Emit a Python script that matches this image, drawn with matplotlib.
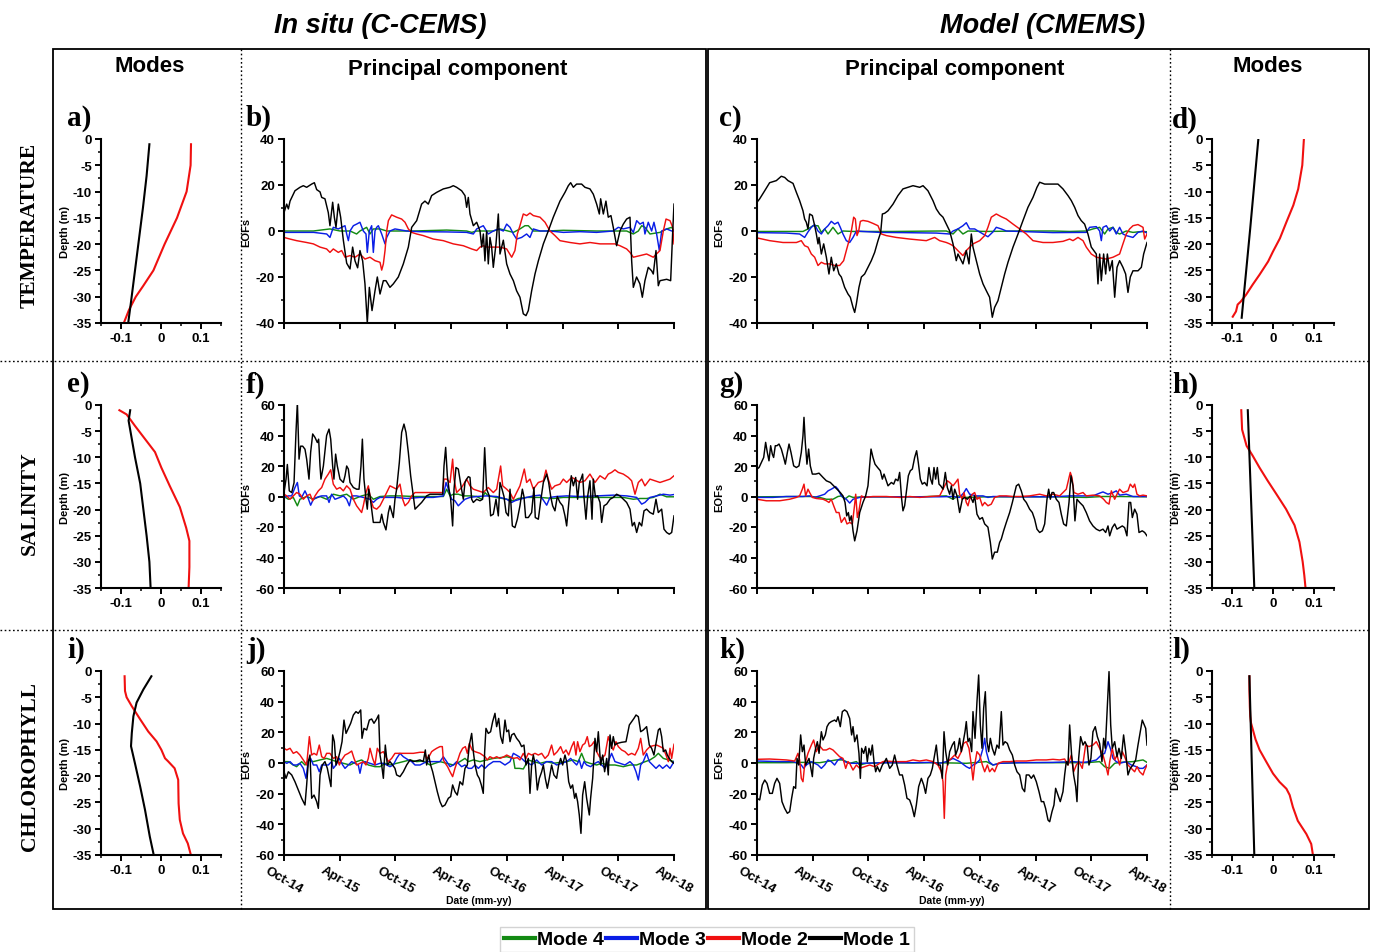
import matplotlib
matplotlib.use("Agg")
import matplotlib.pyplot as plt
from matplotlib.lines import Line2D
from matplotlib.patches import Rectangle
from matplotlib.ticker import MultipleLocator

W, H = 1373, 953

# ---- time axis: months since Oct-14 ----
date_ticks = [0, 6, 12, 18, 24, 30, 36, 42]
date_labels = ["Oct-14", "Apr-15", "Oct-15", "Apr-16", "Oct-16", "Apr-17", "Oct-17", "Apr-18"]

# ---- principal components, (month, EOF value) ----
# b) temperature, in situ
b_mode1 = [(0, 8), (0.29, 11.7), (0.47, 9.6), (0.65, 13), (1.18, 17.5), (1.72, 19), (2.08, 19.7), (2.44, 19), (2.98, 20.4), (3.27, 21), (3.52, 18), (3.88, 17), (4.06, 14.6), (4.41, 14), (4.77, 8), (4.95, 2.3), (5.24, 12.5), (5.42, 6), (5.6, 1.6), (5.85, 11.7), (6.1, 6), (6.39, -4), (6.75, -14), (7.11, -16.5), (7.39, -7), (7.65, -13), (7.93, -16), (8.18, -8.5), (8.47, -13), (8.72, -23), (8.97, -40), (9.19, -24.5), (9.48, -34.6), (9.8, -26), (10.05, -20), (10.34, -27.4), (10.7, -21.6), (10.98, -21.6), (11.41, -24.5), (11.77, -23), (12.31, -20), (12.85, -14.3), (13.39, -7), (13.75, 1.6), (14.29, 4.5), (14.82, 11.7), (15.18, 13), (15.54, 11.7), (15.9, 15.4), (16.44, 16.8), (17.16, 18.3), (17.87, 19), (18.23, 19.7), (18.59, 19), (19.13, 17.5), (19.49, 15.4), (19.67, 10.3), (19.85, 14.6), (20.03, 7.4), (20.39, 2.3), (20.75, 3.8), (21.11, 0), (21.29, -7), (21.47, -1.3), (21.64, -13), (21.82, 0), (22.0, -14.3), (22.18, -2.8), (22.36, -7), (22.54, -15.8), (22.83, -5.6), (23.08, 7.4), (23.26, -10), (23.62, -4), (23.98, -14.3), (24.34, -18.7), (24.7, -21.6), (25.05, -26), (25.41, -28.8), (25.77, -36), (26.06, -36.8), (26.31, -34.6), (26.67, -26), (27.03, -18.7), (27.39, -13), (27.93, -5.6), (28.46, 0), (29.0, 6), (29.72, 13), (30.26, 16.8), (30.62, 19.7), (30.87, 21), (31.16, 19), (31.51, 20.4), (32.05, 20.4), (32.41, 19), (32.95, 18.3), (33.31, 16), (33.67, 11.7), (33.96, 7.4), (34.1, 14), (34.39, 7.4), (34.67, 13), (34.92, 6), (35.21, 6.7), (35.46, 1.6), (35.82, -6.4), (36.18, 0), (36.54, 3), (36.9, 5.2), (37.26, 6), (37.44, -13), (37.62, -24.5), (37.97, -20), (38.33, -23), (38.59, -28.8), (38.87, -21.6), (39.23, -15.8), (39.59, -17.3), (39.77, -18.7), (40.06, -8.5), (40.31, -23.8), (40.49, -21.6), (41.21, -21), (41.64, -21.6), (41.85, -1.3), (42.0, 11.7)]
b_mode2 = [(0, -2.8), (0.65, -3.5), (1.36, -4.2), (2.44, -5), (3.16, -5.6), (3.88, -7), (4.59, -7.8), (4.95, -9.3), (5.31, -7.8), (5.85, -9.3), (6.21, -8.5), (6.57, -11.4), (7.11, -10.7), (7.65, -11.4), (8.18, -10), (8.72, -12.2), (9.26, -11.4), (9.8, -12.9), (10.34, -13.6), (10.52, -17), (10.7, -14.3), (10.88, -8.5), (11.06, 0), (11.24, 4.5), (11.59, 7), (12.13, 6), (12.67, 5.2), (13.03, 3.8), (13.39, 0.9), (13.75, -0.6), (14.29, -1.3), (15.0, -2), (16.08, -3.5), (17.16, -4.2), (18.23, -5.6), (19.31, -6.4), (20.21, -7.8), (20.75, -8.5), (21.11, -7), (21.46, -6.4), (21.82, -7), (22.54, -7), (23.26, -7), (23.98, -7.8), (24.52, -11.4), (24.87, -8.5), (25.13, -1.3), (25.41, 2.3), (25.77, 7.4), (26.13, 6.7), (26.49, 7.8), (26.85, 6.7), (27.57, 6), (28.11, 3.8), (28.64, 0), (29.18, -2), (29.72, -4.2), (30.8, -5), (31.87, -5.6), (32.95, -5), (34.03, -5.6), (35.11, -5.6), (35.64, -5.6), (36.18, -6.4), (36.9, -7.8), (37.26, -9.3), (37.62, -11.4), (38.34, -10.7), (39.05, -10), (39.77, -11.4), (40.49, -8.5), (40.85, 0), (41.14, 5.2), (41.57, 4.5), (41.86, 1.6), (42, -5.6)]
b_mode3 = [(0, -0.6), (1.4, -0.6), (3.2, -0.6), (4.6, -1.3), (4.95, -2.8), (5.31, 1.6), (5.85, 0.9), (6.21, 1.6), (6.57, 2.3), (6.75, -1.3), (6.93, -4.2), (7.11, 0), (7.47, 2.3), (7.82, 3), (8.18, 3.8), (8.54, 0), (8.83, -1.3), (8.97, -9.3), (9.19, 0), (9.44, 2.3), (9.62, -9.3), (9.8, 0), (9.98, 1.6), (10.16, 2.3), (10.52, -1.3), (10.88, -5.6), (11.06, -2.8), (11.41, 0), (11.95, 0.9), (13.21, 0), (14.65, -0.3), (17.52, -0.4), (19.67, -0.6), (20.39, -1.3), (20.75, 0.9), (21.46, 2.3), (22.0, -1.3), (22.54, 0), (23.08, 0.9), (23.62, 0), (23.98, 3), (24.34, 1.6), (24.7, -1.3), (25.05, -3.5), (25.59, -2.8), (26.13, -1.3), (26.49, -2.8), (26.85, 0.9), (27.57, 0), (28.64, 0), (30.08, -0.6), (31.87, -0.3), (33.67, -0.6), (35.46, 0), (36.0, 1.6), (36.54, 0.9), (37.26, 1.6), (37.62, -0.6), (37.98, 4.5), (38.34, 3), (38.69, 3.8), (38.87, -1.3), (39.23, 3.8), (39.59, 0), (39.84, 3.8), (40.13, -1.3), (40.42, -8.5), (40.67, 0), (41.21, 0.9), (41.75, 0), (42, 0)]
b_mode4 = [(0, 0), (3.16, 0), (4.95, 0.9), (6.03, 0), (7.11, 0), (7.82, -1.3), (8.18, 0), (8.9, 1.6), (9.26, -1.3), (9.62, 0.9), (10.34, 0.9), (11.06, 0), (13.93, 0), (17.52, 0.4), (19.67, 0), (20.21, -0.6), (20.75, 0), (21.82, 0), (22.54, 0), (23.26, 0.9), (24.7, -0.6), (25.41, 0.9), (25.95, 2.3), (26.31, 2.3), (26.85, 0), (28.29, 0), (30.08, 0.3), (33.67, 0), (35.46, 0), (36.9, 0), (37.62, -1.3), (38.16, 0), (38.52, 2.3), (38.87, 1.6), (39.41, -1.3), (40.49, -0.6), (41.21, 0.9), (41.75, 1.6), (42, 0)]

# c) temperature, model
c_mode1 = [(0, 12.5), (0.29, 14), (0.83, 17.5), (1.36, 21), (2.08, 21.9), (2.62, 23.8), (2.98, 23.3), (3.34, 21.9), (3.88, 20.7), (4.24, 16.8), (4.59, 13.2), (4.95, 8.8), (5.13, 5.2), (5.31, 3.8), (5.49, 0.9), (5.67, 7.4), (5.96, 6.7), (6.21, 2.3), (6.39, -1.3), (6.57, -5.6), (6.68, -2.8), (6.93, -10), (7.18, -5.6), (7.47, -11.4), (7.75, -18.7), (8.0, -11.4), (8.26, -17.3), (8.54, -14.3), (8.83, -18.7), (9.08, -20), (9.44, -24.5), (9.8, -27.4), (10.05, -28.8), (10.34, -33.2), (10.52, -35.4), (10.7, -31.7), (10.98, -24.5), (11.24, -20), (11.59, -18.7), (11.95, -15.8), (12.31, -12.9), (12.67, -9.3), (13.03, -4.2), (13.32, -0.6), (13.5, 7.4), (13.75, 7.7), (14.11, 8.8), (14.65, 11.7), (15.18, 15.4), (15.72, 18.3), (16.26, 19), (16.8, 19.7), (17.52, 19), (17.88, 19.7), (18.41, 17.5), (18.95, 13.2), (19.31, 9.6), (19.67, 7.4), (20.03, 6), (20.39, 3), (20.75, 0), (21.11, -5.6), (21.46, -12.9), (21.64, -10), (21.82, -11.4), (22.18, -14.3), (22.54, -8.5), (22.83, -14.3), (23.08, -1.3), (23.26, -7), (23.62, -12.9), (23.98, -18.7), (24.34, -23), (24.7, -26), (25.05, -28.8), (25.34, -37.5), (25.59, -33.2), (25.95, -30.3), (26.31, -24.5), (26.67, -18.7), (27.03, -13.6), (27.57, -7), (28.11, -1.3), (28.64, 4.5), (29.18, 10.3), (29.72, 14.6), (30.15, 19), (30.44, 21.2), (30.98, 20.4), (31.69, 20.4), (32.41, 20.4), (32.95, 18.3), (33.49, 15.4), (33.85, 13.2), (34.21, 10.3), (34.57, 6.7), (34.92, 4.5), (35.28, 3), (35.64, -1.3), (36.0, -7), (36.54, -10), (36.72, -23), (36.9, -10), (37.08, -21.6), (37.33, -10), (37.55, -18.7), (37.73, -10), (37.98, -17.3), (38.26, -12.9), (38.52, -28.8), (38.77, -15.8), (39.05, -12.9), (39.41, -15.8), (39.7, -18.7), (39.95, -26.7), (40.2, -20), (40.49, -17.3), (41.03, -17.3), (41.39, -15.8), (41.64, -10), (42, -5)]
c_mode2 = [(0, -3), (1.36, -4.2), (2.8, -5), (4.24, -5), (4.77, -4.2), (5.13, -6.4), (5.49, -7), (5.85, -10), (6.21, -11.4), (6.57, -15), (6.93, -13.6), (7.29, -14.3), (7.82, -14.3), (8.36, -15), (8.9, -15), (9.33, -12.9), (9.62, -8.5), (9.91, -4.2), (10.16, 0), (10.41, 6), (10.59, 5.2), (10.77, -2), (10.95, 0), (11.13, 4.2), (11.41, 4.6), (11.95, 4.2), (12.49, 3.3), (13.03, 2.3), (13.39, -1.3), (13.93, -2), (15.0, -2.8), (16.44, -3.5), (18.23, -4.2), (19.13, -2.8), (19.67, -4.2), (20.39, -5), (20.75, -5.6), (21.11, -6.4), (21.46, -7.8), (21.82, -9.3), (22.18, -10.7), (22.54, -8.5), (23.26, -5.6), (23.98, -4.2), (24.52, -2), (24.87, 1.6), (25.23, 6), (25.77, 7.4), (26.31, 6.2), (26.85, 5.2), (27.57, 3), (28.29, 0.9), (29.0, -1.3), (29.72, -4.2), (30.8, -5), (31.87, -5), (32.95, -4.5), (33.67, -3.5), (34.03, -4.2), (34.57, -2.8), (35.11, -4.2), (35.46, -7), (36.0, -10), (36.54, -11.4), (37.62, -12.2), (38.34, -11.4), (39.05, -10), (39.41, -5.6), (39.77, -1.3), (40.13, 0.9), (40.49, 2.3), (41.03, 2.8), (41.57, 1.6), (41.75, -3.5), (42, -1.3)]
c_mode3 = [(0, -0.7), (3.16, -0.9), (4.59, -1.3), (5.13, -2.8), (5.49, -0.4), (5.85, 1.6), (6.21, 2.8), (6.57, 0), (6.93, -1.3), (7.29, 0.9), (7.65, 2.3), (8.0, 4.2), (8.36, 3), (8.72, 3.8), (8.97, 1.6), (9.26, -1.3), (9.62, -4.2), (9.98, -5), (10.34, -2.8), (10.7, 0), (11.41, -0.2), (13.21, -0.6), (15.72, -0.7), (19.31, -0.9), (20.75, -1.3), (21.11, 0), (21.64, 0.9), (22.18, 2.3), (22.54, 3.6), (22.9, 0.9), (23.44, 0.9), (23.8, 0), (24.34, -1.3), (24.87, -2.5), (25.41, -0.4), (25.77, 1.6), (26.31, 0.9), (26.85, 0), (28.29, -0.2), (31.87, -0.7), (35.46, -0.6), (35.82, 1.6), (36.54, 1.9), (36.9, 0), (37.08, -4.2), (37.26, 1.6), (37.62, 2.3), (37.98, 0), (38.34, 1.6), (38.69, -1.3), (39.05, 1.6), (39.41, -1.3), (39.77, -2), (40.49, -2.8), (41.03, -0.6), (41.57, 0), (42, -0.9)]
c_mode4 = [(0, -0.2), (4.95, -0.2), (5.49, 0.9), (6.03, 2.3), (6.57, 2.3), (6.93, -0.6), (7.29, 0.9), (7.65, -1.3), (8.18, 1.6), (8.72, -1.3), (9.26, 0), (10.34, -0.2), (14.65, -0.2), (19.67, 0), (20.39, 0), (21.11, -1.3), (21.64, 0.9), (22.18, -1.3), (22.72, 0), (24.7, -0.2), (28.29, 0), (31.87, 0), (33.67, -0.2), (35.46, 0), (36.18, 0.9), (36.9, 1.6), (37.44, -1.3), (37.8, 0.9), (38.34, 1.6), (38.69, -0.6), (39.05, -1.3), (39.77, 0), (40.49, -0.6), (41.21, -0.3), (42, -0.3)]

# f) salinity, in situ
f_mode1 = [(0, 2.6), (0.22, 11.4), (0.36, 21), (0.57, 3.7), (0.83, 2.6), (1.08, 9), (1.29, 42), (1.44, 61.7), (1.62, 24.5), (1.79, 33), (2.01, 33), (2.26, 31), (2.44, 24.5), (2.69, 11.4), (2.87, 29), (3.09, 41), (3.34, 38.7), (3.59, 35.4), (3.73, 37.6), (3.88, 20), (3.98, 11.4), (4.24, 20), (4.59, 40), (4.85, 44.2), (5.03, 37.6), (5.24, 20), (5.38, 11.4), (5.56, 27.8), (5.74, 20), (6.03, 11.4), (6.39, 9.2), (6.57, 13.6), (6.75, 20), (6.93, 18), (7.11, 9.2), (7.47, 5.9), (7.82, 4.8), (8.08, 4.8), (8.29, 20), (8.44, 37.6), (8.61, 11.4), (8.83, -1.8), (8.97, -8.3), (9.12, 4.8), (9.26, 0.4), (9.44, -8.3), (9.62, -17), (9.98, -17), (10.34, -17), (10.52, -11.6), (10.7, -17), (10.98, -21.9), (11.24, -10.5), (11.41, -6.1), (11.77, -13.8), (11.95, -1.8), (12.13, 4.8), (12.42, 22.3), (12.67, 42), (12.92, 47.5), (13.14, 42), (13.39, 28.9), (13.64, 13.6), (13.93, 0.4), (14.11, -8.3), (14.47, -6.1), (14.82, -3.9), (15.36, 0.4), (15.72, 1.5), (16.44, 1.5), (17.09, 1.5), (17.23, 20), (17.41, 32.2), (17.59, 13.6), (17.77, 4.8), (17.95, -1.8), (18.16, -19.3), (18.31, 4.8), (18.52, 19), (18.77, 18), (19.06, 7), (19.31, -1.8), (19.49, 9.2), (19.67, 11.4), (19.85, 13), (20.03, 12.5), (20.21, -1.8), (20.39, -3.9), (20.75, -1.8), (21.11, -2.8), (21.39, -1.8), (21.61, 32), (21.82, 4.8), (22.11, 0.4), (22.25, -12.7), (22.54, -11.6), (22.83, -1.8), (23.08, -12.7), (23.26, 9.2), (23.48, 4.8), (23.69, 0), (23.91, -10.5), (24.16, -12.7), (24.34, 4.8), (24.59, -19.3), (24.87, -20.4), (25.13, -14.9), (25.41, -6.1), (25.67, 4.8), (25.84, 0), (26.02, -13.8), (26.31, -13.8), (26.67, -10.5), (26.92, 5.9), (27.06, -13.8), (27.39, -14.9), (27.67, -1.8), (27.93, 9.2), (28.29, 14.7), (28.5, 9.2), (28.72, 0), (28.93, -6.1), (29.18, -9.4), (29.43, 0), (29.72, -3.9), (30.01, -6.1), (30.26, -12.7), (30.44, -19.3), (30.73, 0), (30.94, 13.6), (31.16, 7), (31.41, 12.5), (31.62, -1.8), (31.8, 9.2), (31.98, 11.4), (32.16, 14.7), (32.3, 0), (32.52, -14.9), (32.7, 0), (32.95, 10.3), (33.17, -14.9), (33.31, 11.4), (33.53, 0), (33.78, 0.4), (34.03, -3.9), (34.21, -17), (34.46, -6.1), (34.75, -5), (35.11, -1.8), (35.46, -0.6), (35.82, 1.5), (36.18, 0.4), (36.54, -1.8), (36.9, -3.9), (37.26, -8.3), (37.51, -19.3), (37.73, -17), (37.98, -23.6), (38.26, -17), (38.52, -19.3), (38.77, -9.4), (39.05, -8.3), (39.41, -10.5), (39.77, -11.6), (40.06, -1.8), (40.31, -10.5), (40.67, -8.3), (40.92, -21.4), (41.21, -23.6), (41.49, -24.7), (41.75, -23.6), (42, -12.7)]
f_mode2 = [(0, 1.5), (0.29, 0.4), (0.65, -1.8), (1.0, 0.4), (1.36, 2.6), (1.72, 1.5), (2.08, -1.8), (2.44, 0.4), (2.8, 1.5), (3.09, -2.8), (3.34, 0.4), (3.7, 3.7), (4.06, 5.9), (4.41, 11.4), (4.77, 14.7), (5.03, 17.5), (5.31, 8.1), (5.67, 4.8), (6.03, 5.9), (6.39, 3.7), (6.75, 7), (7.11, 4.8), (7.47, -1.8), (7.82, -6.1), (8.36, -10.5), (8.54, -6.1), (8.83, 2.6), (9.08, 7), (9.33, -1.8), (9.62, -7.2), (9.98, -8.3), (10.34, -6.1), (10.7, -1.8), (11.06, 2.6), (11.41, 7), (11.77, 5.9), (12.13, 4.8), (12.49, 8.1), (12.78, -1.8), (13.03, -6.1), (13.39, -3.9), (13.75, 0.4), (14.11, 2.6), (15.72, 2.6), (17.09, 2.6), (17.23, 11.4), (17.52, 11.4), (17.88, 9.2), (18.16, 24.5), (18.31, 11.4), (18.59, 2.6), (19.13, 5.9), (19.67, 11.4), (20.03, 7), (20.39, 4.8), (20.93, 3.7), (21.46, 2.6), (22.0, 5.9), (22.54, 2.6), (22.9, 4.8), (23.33, 20), (23.55, 7), (23.98, 4.8), (24.34, 2.6), (24.7, -1.8), (25.05, 2.6), (25.41, 7), (25.88, 18), (26.13, 9.2), (26.49, 11.4), (26.85, 4.8), (27.39, 9.2), (27.93, 10.3), (28.21, 17.3), (28.46, 11.4), (28.82, 4.8), (29.18, 7), (29.72, 8.1), (30.08, 11.4), (30.44, 9.2), (30.98, 12.5), (31.34, 11.4), (31.87, 9.2), (32.41, 10.3), (32.95, 14.7), (33.49, 9.2), (34.03, 13.6), (34.57, 11.4), (34.92, 14.7), (35.28, 15.8), (35.64, 17.5), (36.0, 15.8), (36.54, 14.7), (37.08, 12.5), (37.44, 10.3), (37.8, 1.5), (38.16, 9.2), (38.52, 11.4), (38.87, 7), (39.41, 11.4), (39.95, 10.3), (40.49, 9.2), (41.03, 10.3), (41.57, 11.4), (42, 13.6)]
f_mode3 = [(0, -0.6), (0.47, 0.4), (0.83, 0.4), (1.18, 5.9), (1.44, 9.2), (1.65, 0.4), (1.9, -0.6), (2.26, 3.7), (2.51, 0.4), (2.87, -5.7), (3.16, -1.8), (3.52, -0.6), (4.06, 0.4), (4.59, 0.4), (4.85, -3.9), (5.13, 1.5), (5.49, -1.8), (6.03, -0.6), (6.39, 0.4), (6.75, -1.8), (7.04, -6.1), (7.29, 0.4), (7.82, 0.4), (8.54, -0.6), (9.26, -1.8), (9.62, -3.9), (9.98, -1.8), (10.34, -0.6), (11.06, -0.6), (12.13, -0.6), (13.21, -1.3), (14.65, -0.6), (16.08, -0.6), (17.16, 0.4), (17.45, 9.2), (17.7, 4.8), (18.05, -1.8), (18.41, -2.8), (18.77, -6.1), (19.13, -3.9), (19.49, -1.8), (20.03, -0.6), (20.75, 0), (21.82, 0.4), (22.9, 0), (23.98, -1.8), (24.52, -3.9), (24.87, -2.8), (25.41, -1.8), (26.13, -0.6), (26.85, 0.4), (27.57, 0.9), (28.29, -5.7), (28.64, -0.6), (29.36, 0), (30.44, 0.4), (31.87, 0), (33.67, 0.4), (35.46, 0.9), (36.9, 0.4), (37.98, -0.6), (38.52, -5), (38.87, -3.9), (39.41, -0.6), (40.13, 0.4), (40.85, 1.5), (41.57, 0.9), (42, 1.3)]
f_mode4 = [(0, 0), (0.47, -1.8), (1.0, -0.6), (1.44, -6.1), (1.72, -1.8), (2.44, 0), (3.16, -1.8), (3.88, 0), (4.59, -1.8), (5.31, 1.5), (6.03, 0.4), (6.75, 1.5), (7.47, -1.8), (8.36, 0.4), (9.08, 1.5), (9.62, -1.8), (10.34, 0), (11.41, 0.4), (12.49, 0.4), (13.93, 0), (15.72, 0), (17.16, 0), (17.52, 4.8), (17.88, 0.4), (18.23, 1.5), (18.77, 1.5), (19.31, 0.4), (20.03, 0.4), (20.75, 0), (21.29, -1.8), (21.64, 2.6), (22.0, 0.4), (22.9, -0.6), (23.98, -1.8), (24.7, -2.8), (25.23, -1.3), (26.13, -0.6), (27.57, -0.6), (29.0, -1.3), (30.08, -0.6), (31.87, -0.6), (33.67, -0.6), (35.46, -0.6), (36.54, -0.6), (37.62, -1.8), (38.34, -1.3), (39.05, -1.3), (39.77, -0.6), (40.49, 1.5), (41.21, -0.2), (42, -0.2)]

# g) salinity, model
g_mode1 = [(0, 18), (0.22, 19), (0.47, 22.3), (0.72, 25.6), (0.93, 35.5), (1.11, 28.9), (1.29, 23.4), (1.47, 33.3), (1.65, 27.8), (1.79, 25.6), (1.97, 33.3), (2.15, 33.3), (2.37, 34.4), (2.62, 31.1), (2.87, 25.6), (3.05, 21.2), (3.27, 28.9), (3.45, 34.4), (3.66, 28.9), (3.95, 20.1), (4.24, 19), (4.52, 20.1), (4.77, 28.9), (4.95, 39.8), (5.06, 51.9), (5.2, 35.5), (5.38, 21.2), (5.56, 31.1), (5.74, 20.1), (5.96, 14.7), (6.32, 14.7), (6.68, 15.3), (7.11, 12.5), (7.47, 10.3), (7.9, 9.2), (8.26, 7), (8.61, 4.8), (8.97, 2.6), (9.26, 0.4), (9.48, -3.9), (9.66, -12.7), (9.84, -10.5), (9.98, -16), (10.16, -12.7), (10.34, -22.5), (10.52, -29.1), (10.77, -22.5), (11.06, -10.5), (11.41, -3.9), (11.7, 0.4), (11.95, 7), (12.13, 20.1), (12.28, 31.1), (12.49, 25.6), (12.71, 21.2), (12.99, 19), (13.28, 16.9), (13.5, 11.4), (13.68, 14.7), (13.86, 11.4), (14.11, 7), (14.47, 9.2), (14.72, 8.1), (14.93, 11.4), (15.18, 10.3), (15.36, 15.8), (15.58, -1.8), (15.72, -9.4), (15.9, -6.1), (16.08, 2.6), (16.3, 13.6), (16.51, 16.9), (16.73, 18), (16.98, 25.6), (17.19, 30), (17.37, 22.3), (17.59, 11.4), (17.8, 8.1), (18.05, 9.2), (18.31, 7), (18.52, 19), (18.7, 11.4), (18.88, 8.1), (19.06, 19), (19.24, 11.4), (19.42, 19), (19.6, 8.1), (19.78, 7), (20.03, 4.8), (20.28, 15.8), (20.5, 5.9), (20.75, 1.5), (20.93, 7), (21.11, -1.8), (21.29, 4.8), (21.54, 0.4), (21.82, -10.5), (22.11, -1.8), (22.36, -0.6), (22.65, -1.8), (22.97, 0.4), (23.26, -3.9), (23.44, 0.4), (23.69, -11.6), (23.98, -14.9), (24.27, -13.8), (24.52, -18), (24.87, -20.1), (25.13, -30.1), (25.34, -41), (25.59, -36.5), (25.88, -36.5), (26.13, -30.1), (26.31, -27.9), (26.56, -22.5), (26.85, -17), (27.21, -10.5), (27.5, -3.9), (27.75, 2.6), (27.93, 7), (28.18, 8.1), (28.46, 3.7), (28.72, -1.8), (29.0, -3.9), (29.36, -8.3), (29.65, -10.5), (29.9, -14.9), (30.15, -21.4), (30.44, -23.6), (30.73, -22.5), (30.98, -18), (31.23, -1.8), (31.41, 4.8), (31.59, -1.8), (31.77, 2.6), (31.95, 2.6), (32.23, -1.8), (32.52, -3.9), (32.77, -11.6), (33.02, -18), (33.31, -19.3), (33.6, -3.9), (33.81, 13.6), (34.03, 7), (34.24, -16), (34.46, -1.8), (34.75, -3.9), (35.11, -6.1), (35.46, -10.5), (35.82, -16), (36.18, -19.3), (36.54, -21.4), (36.9, -22.5), (37.26, -21.4), (37.55, -23.6), (37.8, -19.3), (37.98, -25.8), (38.26, -20.4), (38.52, -18), (38.77, -21.4), (39.05, -20.4), (39.34, -19.3), (39.59, -20.4), (39.84, -25.8), (40.06, -3.9), (40.24, -3.9), (40.42, -13.8), (40.67, -8.3), (40.92, -11.6), (41.14, -23.6), (41.49, -22.5), (41.75, -23.6), (42, -25.8)]
g_mode2 = [(0, -1.8), (1.0, -2.8), (2.44, -2.8), (3.52, -1.8), (4.24, -0.6), (4.59, 0.4), (4.88, 4.8), (5.06, 8.1), (5.24, 0.4), (5.49, 4.8), (5.67, 2.6), (5.96, -0.6), (6.39, -1.3), (7.11, -1.8), (7.47, -2.8), (7.75, -3.9), (8.0, -1.8), (8.26, -6.1), (8.54, -10.5), (8.83, -10.5), (9.08, -17), (9.44, -13.8), (9.69, -18), (9.98, -17), (10.27, -18), (10.52, -5), (10.63, 1.5), (10.81, -13.8), (10.98, -9.4), (11.24, 0.4), (11.59, -0.6), (12.49, 0), (13.93, 0), (15.36, -0.6), (16.44, 0), (17.52, -0.6), (18.59, 0), (19.67, 0.4), (20.21, 7), (20.5, 10.3), (20.75, 9.2), (21.11, 7), (21.39, 9.2), (21.64, 11.4), (21.82, 1.5), (22.11, -1.8), (22.29, 2.6), (22.54, -3.9), (22.72, -6.1), (22.9, -1.8), (23.19, 1.5), (23.44, 2.6), (23.69, -1.8), (23.98, -0.6), (24.27, -6.1), (24.52, -3.9), (24.87, -6.1), (25.23, -5), (25.59, -0.6), (26.13, 0.4), (26.85, 0.4), (27.57, 0), (28.29, 0), (29.36, 0.4), (30.44, 1.5), (31.16, 0.4), (31.87, 1.5), (32.59, 0.4), (33.31, 4.8), (33.74, 15.8), (33.92, 12.5), (34.13, 2.6), (34.57, 1.5), (35.11, 2.6), (35.46, 0.4), (36.18, 0.9), (36.9, 0.4), (37.33, -1.8), (37.62, -3.9), (37.91, -5), (38.16, 3.7), (38.52, -1.8), (38.77, 1.5), (39.05, 4.8), (39.41, 2.6), (39.95, 3.7), (40.2, 8.1), (40.49, 5.9), (40.67, 8.1), (40.92, 1.5), (41.21, 0.4), (41.57, 0.9), (42, 0.4)]
g_mode3 = [(0, -0.6), (1.72, -0.6), (3.16, 0), (4.24, 0), (4.95, 0), (5.67, 0.4), (6.21, -0.6), (6.75, 0.4), (7.29, 1.5), (7.65, 3.7), (8.0, 4.8), (8.47, 6.5), (8.72, 4.8), (9.08, 0.4), (9.62, -1.8), (9.98, -4.3), (10.34, -1.8), (11.06, -0.6), (12.49, -0.2), (14.65, -0.2), (17.52, -0.2), (19.67, -0.2), (21.11, 0), (21.82, -0.6), (22.29, 2.6), (22.54, 5.2), (22.9, 1.5), (23.62, 0.4), (24.34, 0.4), (24.87, -0.6), (25.41, 0), (28.29, -0.2), (31.87, -0.2), (33.67, 0.4), (35.46, 0.4), (36.18, 0.4), (36.9, 2.2), (37.26, 3), (37.8, 1.5), (38.34, 2.6), (38.69, 3.7), (39.05, 0.9), (39.77, 1.5), (40.49, 0), (41.21, 0), (42, 0)]
g_mode4 = [(0, -0.2), (4.95, 0), (5.85, 0), (6.75, -0.6), (7.47, -1.8), (8.18, -1.8), (8.72, 0), (9.08, 0.4), (9.44, -1.8), (9.91, 0.4), (10.34, -0.6), (11.41, -0.2), (17.52, -0.2), (20.39, 0.4), (21.11, -1.8), (21.64, 0.4), (22.54, -0.6), (24.7, -0.2), (31.87, -0.2), (35.46, -0.6), (37.26, 0), (39.05, 0), (42, -0.2)]

# j) chlorophyll, in situ
j_mode1 = [(0, -5.7), (0.22, -10), (0.47, -5.7), (0.83, -7.8), (1.18, -12.2), (1.54, -17.6), (1.9, -23), (2.26, -27.4), (2.44, -14.3), (2.62, 0.9), (2.8, 5.2), (2.98, -23), (3.23, -20.9), (3.52, -25.2), (3.7, -29.6), (3.88, -7.8), (4.13, -1.3), (4.41, 0.9), (4.67, -3.5), (4.88, -10), (5.06, -15.4), (5.24, 18.3), (5.42, 13.9), (5.6, -1.3), (5.85, 3), (6.03, 7.4), (6.25, 13.9), (6.46, 28), (6.68, 19.3), (6.93, 22.6), (7.18, 25.9), (7.47, 31.3), (7.75, 33.5), (8.0, 32.4), (8.26, 34.6), (8.4, 16.1), (8.61, 22.6), (8.9, 21.5), (9.19, 28), (9.44, 28.7), (9.69, 25.9), (9.98, 28.7), (10.19, 31.3), (10.34, 5.2), (10.52, -1.3), (10.7, -10), (10.91, 11.7), (11.13, -1.3), (11.41, 0.9), (11.7, -1.3), (11.95, -3.5), (12.13, -7.8), (12.49, -8.9), (12.85, -5.7), (13.21, -1.3), (13.57, 2), (13.93, 0.9), (14.65, 2), (15.0, 0.9), (15.22, 8.5), (15.36, -1.3), (15.58, 5.2), (15.79, -1.3), (16.01, -5.7), (16.26, -12.2), (16.51, -18.7), (16.8, -25.2), (17.05, -28.5), (17.34, -27.4), (17.7, -23), (17.95, -21.9), (18.16, -14.3), (18.41, -18.7), (18.66, -20.9), (18.95, -12.2), (19.24, -14.3), (19.49, -3.5), (19.74, -1.3), (19.96, 11.7), (20.21, 19.3), (20.39, 7.4), (20.57, -1.3), (20.82, -7.8), (21.03, -10), (21.25, -14.3), (21.46, -19.8), (21.61, 7.4), (21.75, 22.6), (22.0, 19.3), (22.25, 20.4), (22.47, 27), (22.72, 32.4), (22.9, 23.7), (23.12, 29.1), (23.33, 17.2), (23.55, 12.8), (23.8, 28), (23.98, 20.4), (24.19, 21.5), (24.34, 13.9), (24.52, 18.3), (24.77, 19.3), (25.05, 16.1), (25.34, 13.9), (25.59, 10.7), (25.84, 11.7), (26.06, -1.3), (26.31, 3), (26.49, -19.8), (26.67, -1.3), (26.85, 5.2), (27.06, -1.3), (27.28, -17.6), (27.5, -10), (27.75, -5.7), (27.93, -1.3), (28.14, -10), (28.36, -16.5), (28.57, -10), (28.82, -1.3), (29.07, -7.8), (29.36, -10), (29.58, -1.3), (29.79, 3), (30.01, -1.3), (30.26, 5.2), (30.44, 0.9), (30.66, -12.2), (30.87, -16.5), (31.08, -14.3), (31.3, -23), (31.44, -19.8), (31.62, -25.2), (31.8, -33.9), (31.98, -45.9), (32.16, -20.9), (32.38, -12.2), (32.59, -23), (32.88, -33.9), (33.02, -23), (33.24, -10), (33.49, 16.1), (33.67, 7.4), (33.85, 20.4), (34.1, -1.3), (34.32, 5.2), (34.53, -5.7), (34.75, 3), (34.92, -7.8), (35.11, 18.3), (35.28, 9.6), (35.46, 17.2), (35.64, 11.7), (35.89, 12.8), (36.36, 13.5), (36.83, 13.9), (37.19, 24.8), (37.44, 27), (37.69, 29.1), (37.91, 31.3), (38.16, 30.2), (38.41, 20.4), (38.69, 21.5), (39.05, 23.7), (39.34, 11.7), (39.59, 9.6), (39.84, 5.2), (40.06, 12.8), (40.31, 21.5), (40.49, 22.6), (40.67, 17.2), (40.85, 7.4), (41.1, 8.5), (41.28, 5.2), (41.49, 3), (41.75, 0.9), (42, -0.2)]
j_mode2 = [(0, 9.6), (0.29, 8.5), (0.65, 9.6), (1.0, 6.3), (1.36, 7.4), (1.72, 5.2), (2.08, 2), (2.44, -1.3), (2.73, 17.2), (2.98, 5.2), (3.23, 6.3), (3.52, 5.2), (3.8, 11.7), (4.06, 4.1), (4.34, 3), (4.59, 6.3), (4.95, 6.3), (5.31, 3), (5.67, 4.1), (5.96, -1.3), (6.21, 2), (6.57, 5.2), (6.93, 6.3), (7.29, 7.8), (7.54, 3), (7.82, -1.3), (8.18, -0.2), (8.54, 0.9), (8.83, -1.3), (9.08, 3), (9.26, 9.6), (9.55, 3), (9.8, -1.3), (10.05, 9.6), (10.34, 6.3), (10.7, 7.4), (10.98, 4.1), (11.24, 0.9), (11.59, 3), (11.95, 6.3), (12.49, 6.3), (13.21, 6.3), (13.93, 6.3), (14.65, 7), (15.18, 7), (15.36, 3), (15.61, 4.1), (15.9, 7.4), (16.15, 8.5), (16.44, 9.6), (16.8, 10.7), (17.05, 10.7), (17.16, 2), (17.37, -0.2), (17.62, -2.4), (17.88, -5.7), (18.16, -8.9), (18.41, -3.5), (18.66, 0.9), (18.95, 6.3), (19.24, 9.6), (19.53, 10.7), (19.74, 6.3), (19.96, 12.8), (20.25, 8.5), (20.57, 7.4), (21.11, 6.3), (21.64, 4.1), (21.89, 2), (22.18, 4.1), (22.54, 3), (22.9, 4.1), (23.26, 3), (23.69, 4.1), (23.98, 5.2), (24.34, 4.1), (24.7, 3), (25.13, 3.5), (25.41, 2), (25.77, 6.3), (26.06, 3), (26.31, 6.3), (26.67, 5.2), (27.03, 6.3), (27.39, 5.2), (27.75, 6.3), (28.11, 3), (28.46, 5.2), (28.82, 11.7), (29.07, 5.2), (29.43, 7.4), (29.79, 10.7), (30.08, 6.3), (30.37, 8.5), (30.66, 5.2), (30.98, 10.7), (31.23, 13.9), (31.44, 5.2), (31.62, 13.9), (31.87, 7.4), (32.16, 11.7), (32.41, 12.8), (32.66, 17.2), (32.88, 10.7), (33.13, 11.7), (33.38, 13.9), (33.67, 7.4), (33.96, 4.1), (34.21, 3), (34.57, 5.2), (34.92, 17.2), (35.18, 11.7), (35.46, 8.5), (35.75, 13.9), (36.0, 10.7), (36.36, 8.5), (36.72, 7.4), (37.08, 5.2), (37.44, 6.3), (37.8, 5.2), (38.16, 9.6), (38.41, 16.1), (38.69, 5.2), (39.05, 8.5), (39.41, 10.7), (39.77, 11.3), (40.13, 11.7), (40.49, 10.7), (40.85, 9.6), (41.14, 5.2), (41.39, 0.9), (41.57, 9.6), (41.75, 3), (42, 12.2)]
j_mode3 = [(0, 0.9), (0.29, -0.2), (0.65, 0.9), (1.0, -1.3), (1.36, -1.3), (1.72, -0.2), (2.08, -3.5), (2.37, -10), (2.62, 2), (2.87, 3), (3.16, -1.3), (3.52, -1.3), (3.8, -5.7), (4.06, -1.3), (4.41, -1.3), (4.77, -1.3), (5.13, 0.9), (5.31, -3.5), (5.6, -1.3), (5.96, 3), (6.32, -1.3), (6.57, -3.5), (6.93, -1.3), (7.29, 0.9), (7.65, -0.2), (8.0, -1.3), (8.18, -6.7), (8.4, -0.2), (8.72, 0.9), (9.26, -0.2), (9.8, -1.3), (10.34, -0.2), (10.7, -0.2), (11.06, -1.3), (11.41, -2.4), (11.77, -1.3), (12.13, 3), (12.49, 6.3), (12.85, 4.1), (13.39, 2), (13.75, 0.9), (14.11, -1.3), (14.65, -1.3), (15.36, 0.9), (16.08, 0.9), (16.8, 0.9), (17.16, 4.1), (17.52, 0.9), (17.88, -2.4), (18.23, -1.3), (18.59, 0.9), (19.13, -2.4), (19.49, -1.3), (19.85, -3.5), (20.21, -3.5), (20.57, -1.3), (20.93, -3.5), (21.29, -1.3), (21.64, -3.5), (22.0, -1.3), (22.54, 0.9), (23.26, 0.9), (23.8, -1.3), (24.34, 0.9), (24.7, 6.3), (25.13, 4.8), (25.59, 3), (25.95, 0.9), (26.31, -0.2), (26.67, -1.3), (27.21, 2), (27.75, -1.3), (28.29, 0.9), (28.82, 0.9), (29.36, -1.3), (29.9, -0.2), (30.44, 0.9), (30.87, 3), (31.16, 0.9), (31.52, -1.3), (31.8, 2), (32.05, -3.5), (32.3, 0.9), (32.59, -1.3), (33.02, -2.4), (33.49, -0.2), (33.85, 0.9), (34.21, -1.3), (34.57, -3.5), (34.92, 0.9), (35.28, 6.3), (35.64, 0.9), (36.18, -0.2), (36.72, -1.3), (37.26, 0.9), (37.62, -1.3), (37.91, -5.7), (38.16, -11.1), (38.41, -1.3), (38.69, 0.9), (39.05, 6.3), (39.34, 0.9), (39.7, -1.3), (40.06, -3.5), (40.42, -1.3), (40.78, -3.5), (41.21, -1.3), (41.57, -3.5), (42, 0.9)]
j_mode4 = [(0, 0.9), (0.47, 0.9), (1.0, -1.3), (1.36, -2.4), (1.9, 0.9), (2.26, -1.3), (2.62, 2), (3.16, 0.9), (3.88, 2), (4.59, 3), (5.13, 2), (5.67, 0.9), (6.39, -0.2), (7.11, -1.3), (7.82, 0.9), (8.36, 2), (9.08, -1.3), (9.8, -2.4), (10.34, -2.4), (10.88, -0.2), (11.41, -1.3), (12.13, -0.2), (12.85, 0.9), (13.57, 2), (14.29, 0.9), (15.0, 1.3), (15.72, -1.3), (16.26, -0.2), (16.8, 0.9), (17.52, -0.2), (18.23, -1.3), (18.95, 0.9), (19.49, 3), (19.85, 0.9), (20.39, 2), (21.11, 0.9), (21.82, 2), (22.54, 3), (23.26, 3.5), (23.98, 4.1), (24.7, 3), (24.87, -3.5), (25.34, -3.5), (25.77, -3.9), (26.31, 2), (26.85, 0.9), (27.57, -0.2), (28.29, 0.9), (29.0, -0.2), (29.72, 0.4), (30.44, 0.9), (31.16, 2), (31.69, 0.9), (32.05, 6.3), (32.41, 0.9), (32.95, -0.2), (33.67, -1.3), (34.21, -0.2), (34.92, -1.3), (35.64, -1.3), (36.54, -2.4), (37.26, -1.3), (37.98, -1.3), (38.69, 0.4), (39.41, 2), (39.95, 4.1), (40.31, 6.3), (40.85, 3), (41.39, 2), (42, 0.9)]

# k) chlorophyll, model
k_mode1 = [(0, -23), (0.29, -24.1), (0.57, -14.3), (0.83, -11.1), (1.08, -13.3), (1.36, -19.8), (1.65, -19.8), (1.9, -13.3), (2.15, -10), (2.44, -13.3), (2.69, -25.2), (2.98, -29.6), (3.27, -32.8), (3.52, -31.7), (3.73, -23), (3.95, -15.4), (4.16, -16.5), (4.31, 3), (4.49, -1.3), (4.7, 18.3), (4.88, 7.4), (5.06, 11.7), (5.24, -1.3), (5.42, 0.9), (5.6, 3), (5.74, -1.3), (5.96, -8.9), (6.1, 3), (6.32, 9.6), (6.5, 13.9), (6.68, 6.3), (6.93, 20.4), (7.11, 15), (7.36, 18.3), (7.54, 23.7), (7.75, 25.9), (8.0, 27), (8.36, 28), (8.54, 27), (8.72, 30.2), (8.97, 23.7), (9.19, 33.5), (9.44, 34.6), (9.69, 33.5), (9.98, 29.1), (10.19, 18.3), (10.34, 23.7), (10.52, 13.9), (10.77, 18.3), (10.98, 6.3), (11.13, -10), (11.27, 9.6), (11.49, 6.3), (11.7, 10.7), (11.88, 0.9), (12.06, 9.6), (12.24, 5.2), (12.42, 11.7), (12.6, 0.9), (12.78, -5.7), (12.96, -2.4), (13.21, -5.7), (13.5, -1.3), (13.75, 0.9), (13.93, 3), (14.29, -3.5), (14.57, -1.3), (14.82, 5.2), (15.07, -1.3), (15.36, -7.8), (15.65, -7.8), (15.9, -14.3), (16.15, -23), (16.44, -24.1), (16.69, -28.5), (16.94, -35), (17.16, -27.4), (17.41, -15.4), (17.7, -10), (17.95, -14.3), (18.16, -19.8), (18.41, -10), (18.66, -7.8), (18.88, -3.5), (19.06, 3), (19.31, 11.7), (19.53, -1.3), (19.74, -1.3), (19.96, -10), (20.14, 20.4), (20.32, 7.4), (20.54, -1.3), (20.75, 7.4), (21.03, 11.7), (21.25, 13.9), (21.39, 5.2), (21.64, 9.6), (21.82, 16.1), (22.0, 7.4), (22.18, 12.8), (22.4, 20.4), (22.54, 27), (22.72, 13.9), (22.9, 16.1), (23.12, 7.4), (23.26, 33.5), (23.48, 16.1), (23.69, 40), (23.87, 57.4), (24.05, 24.8), (24.23, 9.6), (24.41, 35.7), (24.59, 46.5), (24.77, 13.9), (24.95, 7.4), (25.13, 16.1), (25.34, 9.6), (25.59, 5.2), (25.84, 11.7), (26.06, 9.6), (26.31, 33.5), (26.49, 11.7), (26.71, 13.9), (26.96, 12.8), (27.21, 8.5), (27.5, 5.2), (27.75, -1.3), (28.0, -5.7), (28.29, -7.8), (28.57, -16.5), (28.82, -18.7), (29.0, -7.8), (29.29, -7.8), (29.54, -10), (29.79, -7.8), (30.08, -12.2), (30.37, -18.7), (30.62, -25.2), (30.87, -25.2), (31.08, -29.6), (31.34, -37.2), (31.52, -38.3), (31.77, -31.7), (31.98, -27.4), (32.16, -16.5), (32.41, -20.9), (32.66, -25.2), (32.95, -18.7), (33.13, -7.8), (33.31, 0.9), (33.49, -1.3), (33.67, 24.8), (33.88, 5.2), (34.1, -7.8), (34.32, -15.4), (34.46, -25.2), (34.64, 3), (34.85, 17.2), (35.11, 11.7), (35.32, 13.9), (35.57, 10.7), (35.75, -1.3), (35.96, 3), (36.18, 20.4), (36.43, 23.7), (36.65, 17.2), (36.9, 12.8), (37.15, 0.9), (37.33, 16.1), (37.51, 9.6), (37.73, 37.8), (37.91, 59.6), (38.09, 24.8), (38.26, 9.6), (38.52, 13.9), (38.77, 4.1), (38.98, 9.6), (39.23, 3), (39.48, 18.3), (39.7, 7.4), (39.95, -7.8), (40.2, -3.5), (40.49, -1.3), (40.78, 2), (41.03, 11.7), (41.28, 20.4), (41.49, 28), (41.71, 24.8), (41.86, 22.6), (42, 11.7)]
k_mode2 = [(0, 2.4), (1.36, 2.6), (3.16, 2), (4.06, 1.3), (4.41, 6.3), (4.59, 2), (4.77, -10), (4.95, -12.2), (5.13, -1.3), (5.49, 6.3), (5.85, 11.7), (6.1, 15), (6.39, 7.4), (6.68, 11.7), (7.11, 8.5), (7.47, 8.5), (7.82, 9.6), (8.18, 8.5), (8.54, 6.3), (8.9, 4.1), (9.26, 3), (9.55, -3.5), (9.8, 0.9), (9.98, -0.2), (10.34, -4.6), (10.7, -1.3), (11.06, -3.5), (11.59, -2.4), (12.13, -1.3), (12.67, -2.4), (13.21, -0.2), (13.57, 0.9), (13.93, 1.3), (14.65, 0.9), (15.36, 0.9), (16.08, 0.9), (16.8, 2), (17.52, 1.3), (18.23, 2), (18.95, 0.9), (19.49, -1.3), (19.85, -5.7), (20.03, -12.2), (20.17, -36.1), (20.32, -7.8), (20.57, 0.9), (20.93, 3), (21.29, 5.2), (21.64, 3), (22.0, 7.4), (22.25, 12.8), (22.54, 13.9), (22.83, 9.6), (23.08, -1.3), (23.26, -11.1), (23.44, -1.3), (23.69, 7.4), (23.98, 5.2), (24.27, -1.3), (24.52, -5.7), (24.81, -1.3), (25.05, -5.7), (25.34, -3.5), (25.59, -5.7), (25.95, -0.2), (26.49, 0.9), (27.21, 0.9), (27.93, 1.3), (29.0, 1.3), (30.08, 2), (31.16, 2), (31.87, 2.4), (32.59, 2), (33.13, 2.6), (33.49, -1.3), (33.85, 5.2), (34.1, -5.7), (34.39, -1.3), (34.67, 0.9), (35.03, -3.5), (35.39, 11.7), (35.75, 10.7), (36.18, 11.7), (36.54, 13.9), (36.9, 9.6), (37.26, 5.2), (37.55, -1.3), (37.8, -7.8), (37.98, 0.9), (38.26, 9.6), (38.52, 2), (38.77, 5.2), (39.05, -1.3), (39.34, 7.4), (39.59, 4.1), (39.95, -1.3), (40.31, -3.5), (40.67, -5.7), (40.92, -2.4), (41.21, -5.7), (41.57, -7.8), (41.75, -4.6), (42, -1.3)]
k_mode3 = [(0, 1.3), (2.44, 0.9), (3.88, 0.9), (4.41, -0.2), (4.77, -1.3), (5.02, -3.5), (5.31, -1.3), (5.85, 0.9), (6.21, -0.2), (6.57, -1.3), (6.93, -3.5), (7.29, -1.3), (7.65, 2), (8.0, 0.9), (8.36, -1.3), (8.72, 2), (9.08, 3), (9.44, 0.9), (9.98, -0.2), (11.06, -0.2), (13.93, 0.2), (16.8, 0.2), (18.59, 0.4), (19.67, -0.2), (20.39, 0.9), (21.11, 3), (21.82, 0.9), (22.54, -2.4), (22.9, -3.5), (23.26, -1.3), (23.62, -0.2), (23.98, 2), (24.34, 9.6), (24.52, 16.1), (24.7, 7.4), (24.99, 0.9), (25.41, -1.3), (26.13, -0.2), (28.29, 0.2), (31.87, 0.4), (34.03, 0.9), (35.11, 0.4), (35.82, 0.9), (36.54, 2), (37.08, 5.2), (37.44, 6.3), (37.8, 13.9), (38.05, 9.6), (38.34, 3), (38.69, 0.9), (39.05, -0.2), (39.77, 0.9), (40.31, -1.3), (40.85, -2.4), (41.21, -3.5), (41.57, -3.5), (42, -1.3)]
k_mode4 = [(0, 0.2), (3.16, 0.2), (4.95, 0.4), (6.75, 0.2), (8.54, 2), (9.26, 2), (9.98, -0.2), (10.7, 0.9), (11.06, -1.3), (11.77, -0.2), (13.93, 0.2), (16.8, 0), (18.95, 0.2), (21.11, 0), (22.54, -0.2), (24.7, 0.9), (25.41, -1.3), (26.13, -0.2), (28.29, 0.2), (31.87, 0.2), (35.46, 0.2), (36.9, 0.9), (37.44, -2.4), (37.98, -3.5), (38.52, -0.2), (39.05, 0.4), (40.49, 0.9), (41.57, 2), (42, 0.4)]

# ---- vertical modes, (mode value, depth m) ----
a_mode1 = [(-0.029, -1), (-0.036, -7), (-0.045, -13), (-0.055, -19), (-0.065, -25), (-0.075, -31), (-0.082, -35)]
a_mode2 = [(0.075, -1), (0.074, -5), (0.064, -10), (0.04, -15), (0.009, -20), (-0.019, -25), (-0.045, -28), (-0.063, -30), (-0.08, -32.5), (-0.093, -35)]
d_mode1 = [(-0.036, 0), (-0.056, -17), (-0.077, -34)]
d_mode2 = [(0.076, 0), (0.072, -5), (0.062, -9.5), (0.05, -12.6), (0.033, -15.8), (0.017, -18.9), (0.0, -21.4), (-0.012, -23.3), (-0.033, -25.8), (-0.05, -27.7), (-0.066, -29.6), (-0.079, -30.9), (-0.087, -31.5), (-0.091, -32.8), (-0.099, -33.8)]
e_mode1 = [(-0.077, -1), (-0.081, -3), (-0.065, -10), (-0.052, -15), (-0.044, -20), (-0.036, -25), (-0.029, -30), (-0.026, -35)]
e_mode2 = [(-0.104, -1), (-0.086, -1.8), (-0.065, -4), (-0.04, -6.5), (-0.015, -9), (0.001, -12), (0.022, -15.5), (0.047, -19.5), (0.063, -23.5), (0.071, -26), (0.071, -31), (0.069, -35)]
h_mode1 = [(-0.062, -1), (-0.046, -35)]
h_mode2 = [(-0.078, -1), (-0.076, -4.7), (-0.065, -7.8), (-0.05, -9.7), (-0.033, -12), (-0.013, -14.5), (0.008, -17), (0.032, -19.9), (0.053, -23), (0.065, -26.2), (0.073, -30), (0.077, -32.6), (0.08, -35)]
i_mode1 = [(-0.024, -1), (-0.044, -3.5), (-0.061, -6), (-0.069, -8.6), (-0.073, -11.8), (-0.075, -14.3), (-0.065, -17.6), (-0.052, -22), (-0.04, -26.4), (-0.028, -31.5), (-0.019, -34.7)]
i_mode2 = [(-0.091, -1), (-0.09, -3.8), (-0.086, -5), (-0.073, -6.7), (-0.052, -9.2), (-0.032, -11.5), (-0.011, -13.4), (0.001, -15), (0.01, -16.6), (0.018, -17.2), (0.034, -18.5), (0.043, -20.7), (0.044, -25.2), (0.047, -28.3), (0.055, -30.9), (0.067, -32.8), (0.074, -34.8)]
l_mode1 = [(-0.058, -1), (-0.046, -35)]
l_mode2 = [(-0.058, -1), (-0.058, -3.5), (-0.057, -6.7), (-0.056, -8.6), (-0.054, -9.9), (-0.043, -13), (-0.033, -15), (-0.017, -17.2), (0.0, -19.5), (0.016, -21.1), (0.033, -22.4), (0.041, -23.6), (0.049, -25.9), (0.061, -28.5), (0.082, -31), (0.094, -32.9), (0.098, -34.9)]

mode_names = ["Mode 4", "Mode 3", "Mode 2", "Mode 1"]
mode_colors = ["#138a13", "#0a1ee6", "#f01010", "black"]
row_names = ["TEMPERATURE", "SALINITY", "CHLOROPHYLL"]

plt.rcParams["font.family"] = ["Liberation Sans", "DejaVu Sans"]
plt.rcParams["font.weight"] = "bold"
plt.rcParams["axes.labelweight"] = "bold"
plt.rcParams["axes.unicode_minus"] = False

fig = plt.figure(figsize=(W / 100, H / 100), dpi=100)


def fx(x):
    return x / W


def fy(y):
    return 1 - y / H


def add_axes_px(x0, x1, y0, y1):
    return fig.add_axes([fx(x0), fy(y1), (x1 - x0) / W, (y1 - y0) / H])


def style_axes(ax):
    for side in ["top", "right"]:
        ax.spines[side].set_visible(False)
    for side in ["left", "bottom"]:
        ax.spines[side].set_linewidth(1.5)
    ax.tick_params(which="major", length=4.5, width=1.4, pad=2)
    ax.tick_params(which="minor", length=2.5, width=1.1)
    ax.set_facecolor("none")


def draw_pc(ax, series, lim, show_dates):
    for pairs, color in zip(series, mode_colors):
        t = [p[0] for p in pairs]
        v = [p[1] for p in pairs]
        ax.plot(t, v, color=color, lw=1.05)
    ax.set_xlim(0, 42)
    ax.set_ylim(-lim, lim)
    ax.set_xticks(date_ticks)
    ticks = list(range(-lim, lim + 1, 20))
    ax.set_yticks(ticks, [str(t) for t in ticks], fontsize=9.5)
    ax.yaxis.set_minor_locator(MultipleLocator(10))
    ax.tick_params(axis="x", length=6)
    ax.set_ylabel("EOFs", fontsize=8, labelpad=3)
    if show_dates:
        ax.set_xticklabels(date_labels, rotation=-30, ha="center", fontsize=9.5)
        ax.set_xlabel("Date (mm-yy)", fontsize=7.5, labelpad=0)
    else:
        ax.set_xticklabels([])
    style_axes(ax)


def draw_modes(ax, red, black):
    for pairs, color in [(red, mode_colors[2]), (black, mode_colors[3])]:
        ax.plot([p[0] for p in pairs], [p[1] for p in pairs], color=color, lw=1.5)
    ax.set_xlim(-0.15, 0.15)
    ax.set_ylim(-35, 0)
    ax.set_xticks([-0.1, 0, 0.1], ["-0.1", "0", "0.1"], fontsize=9.5)
    ax.set_xticks([-0.15, -0.05, 0.05, 0.15], minor=True)
    depth_ticks = list(range(0, -36, -5))
    ax.set_yticks(depth_ticks, [str(d) for d in depth_ticks], fontsize=9.5)
    ax.yaxis.set_minor_locator(MultipleLocator(2.5))
    ax.set_ylabel("Depth (m)", fontsize=8, labelpad=2)
    style_axes(ax)


rows_px = [(140, 324), (406, 589), (672, 856)]
cols_px = [(101, 221), (284, 674), (757, 1147), (1212, 1334)]

pc_left = [[b_mode4, b_mode3, b_mode2, b_mode1],
           [f_mode4, f_mode3, f_mode2, f_mode1],
           [j_mode4, j_mode3, j_mode2, j_mode1]]
pc_right = [[c_mode4, c_mode3, c_mode2, c_mode1],
            [g_mode4, g_mode3, g_mode2, g_mode1],
            [k_mode4, k_mode3, k_mode2, k_mode1]]
modes_left = [(a_mode2, a_mode1), (e_mode2, e_mode1), (i_mode2, i_mode1)]
modes_right = [(d_mode2, d_mode1), (h_mode2, h_mode1), (l_mode2, l_mode1)]
pc_lims = [40, 60, 60]
letters = [["a)", "b)", "c)", "d)"], ["e)", "f)", "g)", "h)"], ["i)", "j)", "k)", "l)"]]
letter_x = [67, 246, 719, 1172]
letter_y = [118, 385, 650]

for r, (y0, y1) in enumerate(rows_px):
    ax = add_axes_px(cols_px[0][0], cols_px[0][1], y0, y1)
    draw_modes(ax, *modes_left[r])
    ax = add_axes_px(cols_px[1][0], cols_px[1][1], y0, y1)
    draw_pc(ax, pc_left[r], pc_lims[r], r == 2)
    ax = add_axes_px(cols_px[2][0], cols_px[2][1], y0, y1)
    draw_pc(ax, pc_right[r], pc_lims[r], r == 2)
    ax = add_axes_px(cols_px[3][0], cols_px[3][1], y0, y1)
    draw_modes(ax, *modes_right[r])
    for c in range(4):
        fig.text(fx(letter_x[c]), fy(letter_y[r] + (2 if (r == 0 and c == 3) else 0)),
                 letters[r][c], family=["Liberation Serif", "DejaVu Serif"],
                 weight="bold", fontsize=21, ha="left", va="center")

# row labels
for name, yc in zip(row_names, [225, 503, 767]):
    fig.text(fx(30), fy(yc), name, rotation=90, family=["Liberation Serif", "DejaVu Serif"],
             weight="bold", fontsize=15.5, ha="center", va="center")

# headers
fig.text(fx(380), fy(26), "In situ (C-CEMS)", style="italic", weight="bold",
         fontsize=19.5, ha="center", va="center")
fig.text(fx(1043), fy(26), "Model (CMEMS)", style="italic", weight="bold",
         fontsize=19.5, ha="center", va="center")
for text, xc, yc in [("Modes", 150, 66), ("Principal component", 458, 69),
                     ("Principal component", 955, 69), ("Modes", 1268, 67)]:
    fig.text(fx(xc), fy(yc), text, weight="bold", fontsize=16, ha="center", va="center")

# outer frames
for x0, x1 in [(53, 706), (708, 1369)]:
    fig.add_artist(Rectangle((fx(x0), fy(910)), (x1 - x0) / W, 860 / H,
                             transform=fig.transFigure, fill=False, lw=1.3, ec="black"))
# dotted separators
for xv in [241, 1170]:
    fig.add_artist(Line2D([fx(xv), fx(xv)], [fy(50), fy(910)], transform=fig.transFigure,
                          color="black", lw=1.0, ls=(0, (1.2, 1.8))))
for yv in [362, 631]:
    fig.add_artist(Line2D([fx(0), fx(1369)], [fy(yv), fy(yv)], transform=fig.transFigure,
                          color="black", lw=1.0, ls=(0, (1.2, 1.8))))

# legend
handles = [Line2D([], [], color=c, lw=3.0) for c in mode_colors]
leg = fig.legend(handles, mode_names, loc="upper center", bbox_to_anchor=(fx(707), fy(928)),
                 ncol=4, frameon=True, fancybox=False, edgecolor="#c8c8c8",
                 handlelength=1.6, handletextpad=0.1, columnspacing=0.1, borderpad=0.2,
                 borderaxespad=0, prop={"weight": "bold", "size": 14})
leg.get_frame().set_linewidth(1.0)

fig.savefig("out.png", dpi=100)
